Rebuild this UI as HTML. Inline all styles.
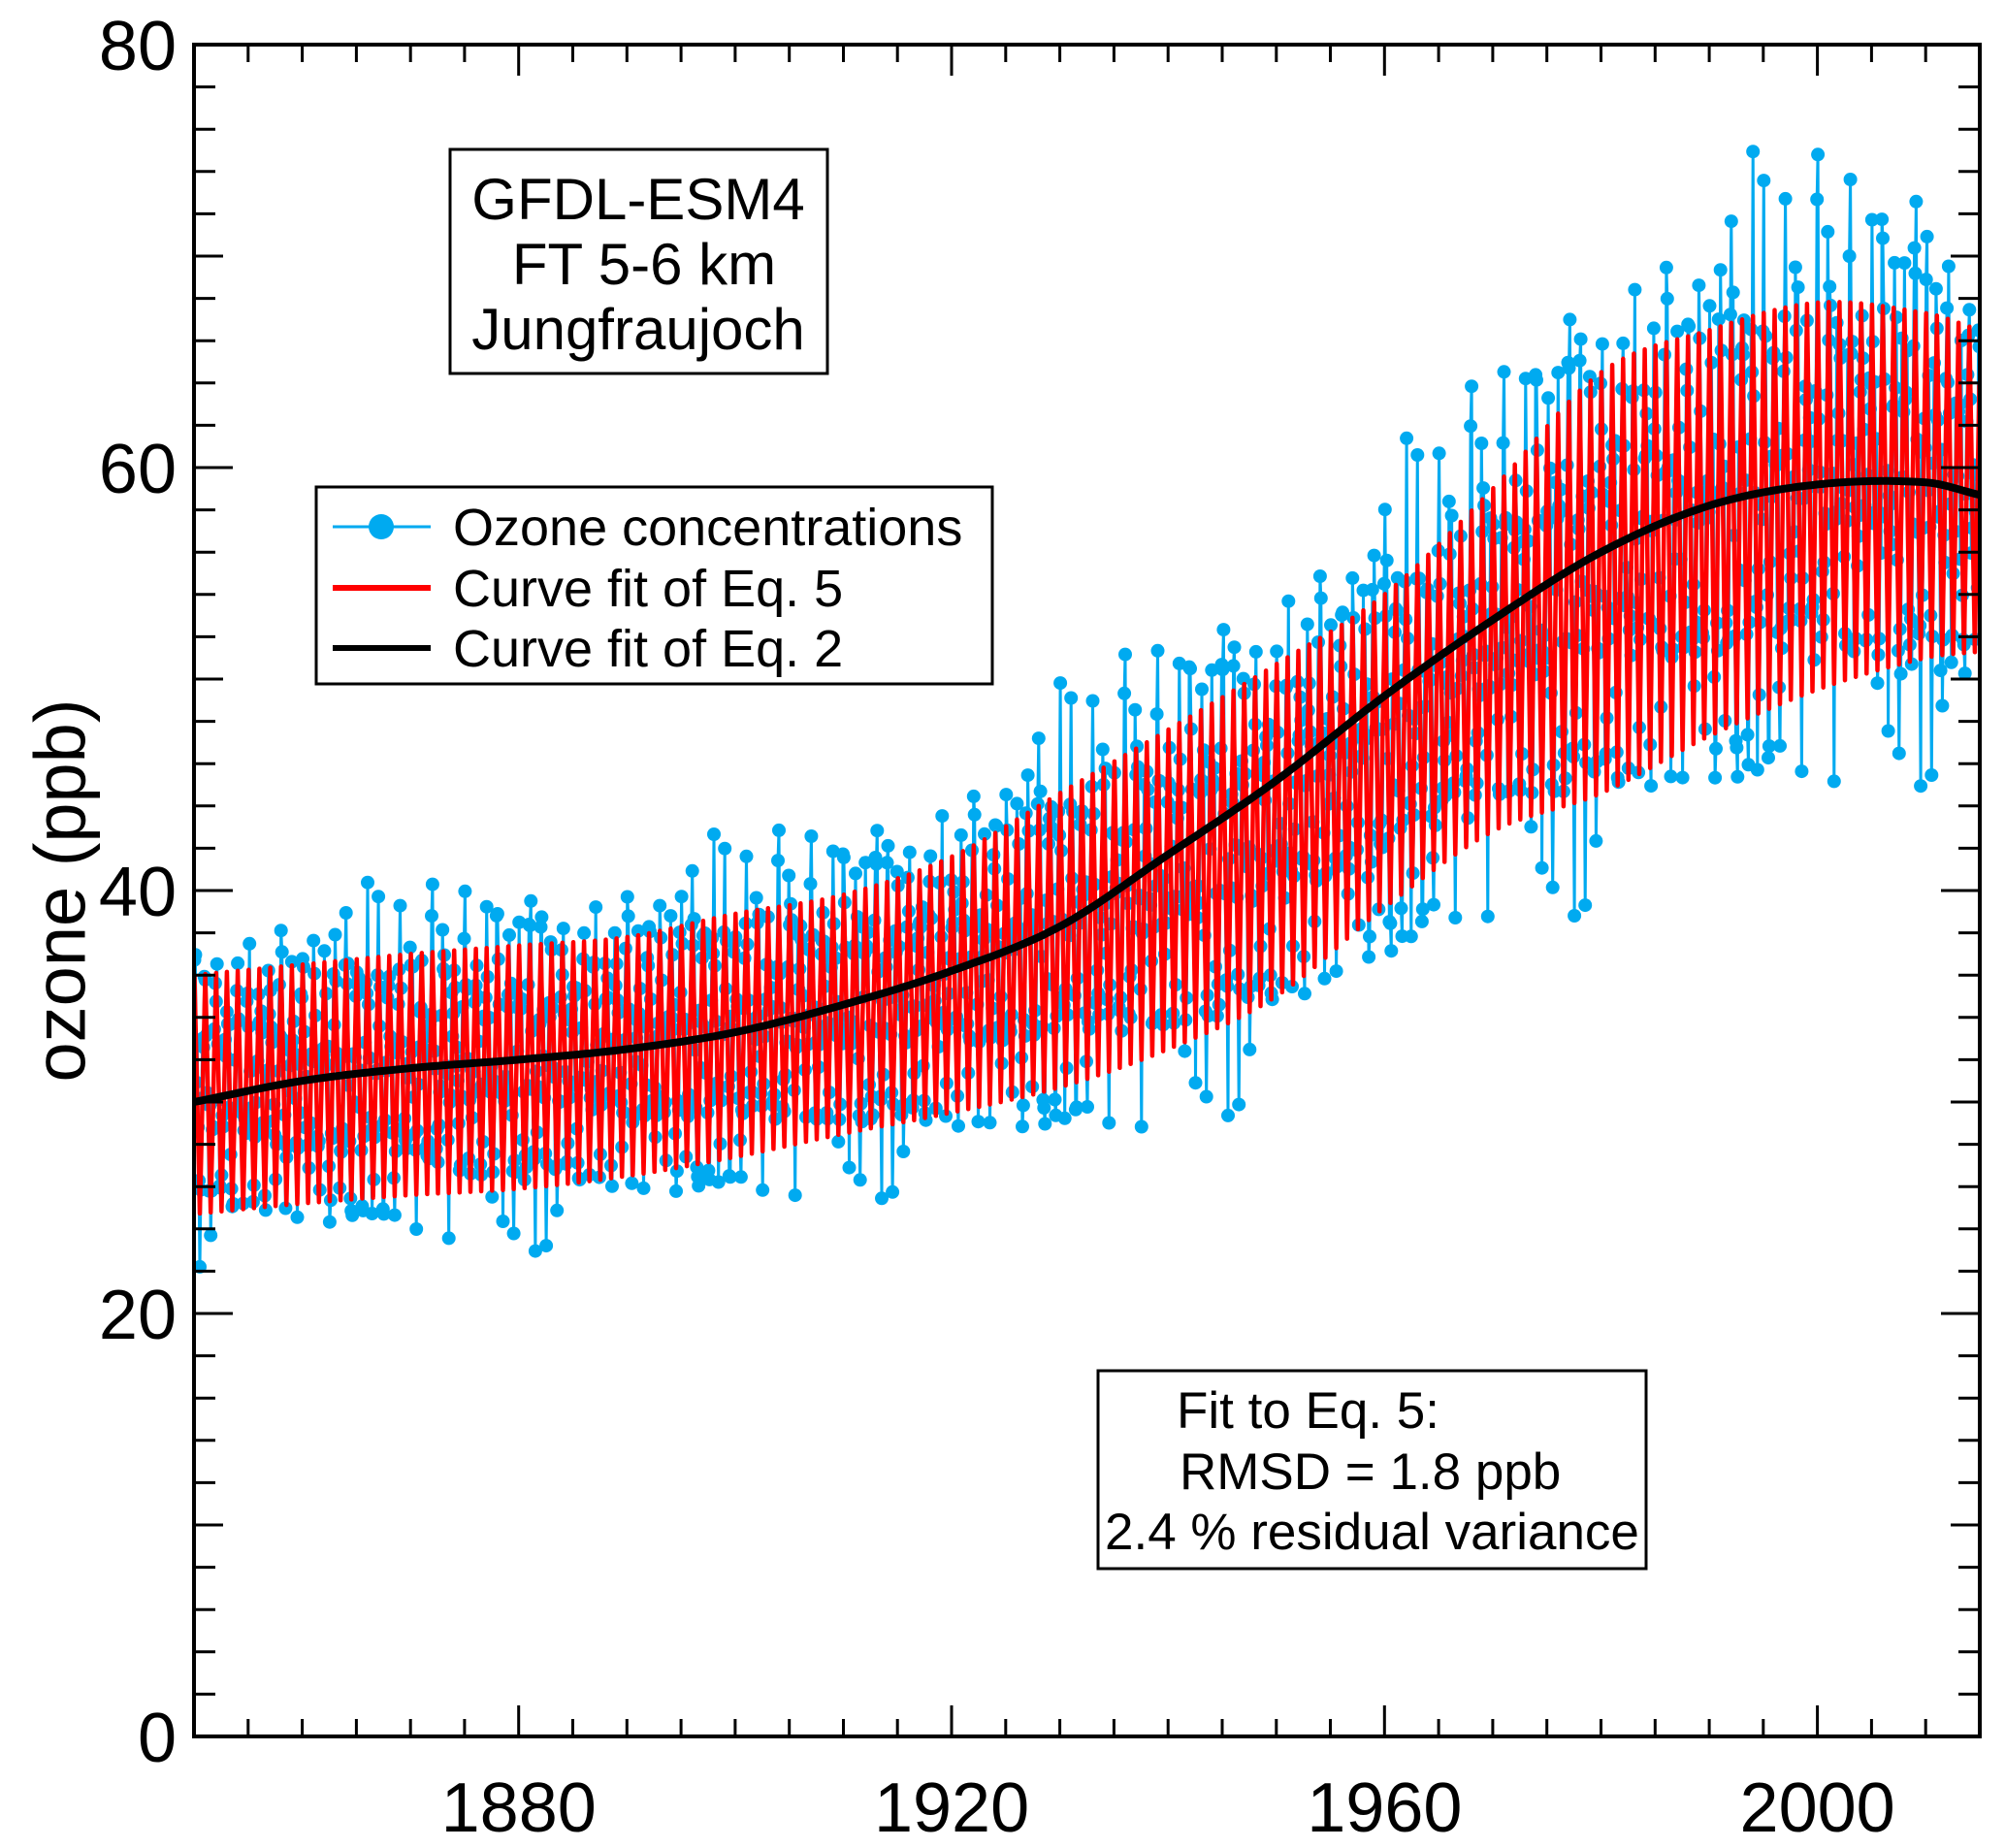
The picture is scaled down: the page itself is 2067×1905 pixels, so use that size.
<!DOCTYPE html>
<html><head><meta charset="utf-8"><style>
html,body{margin:0;padding:0;background:#fff;}
svg{display:block;font-family:"Liberation Sans",Arial,sans-serif;}
</style></head><body>
<svg id="chart" width="2067" height="1905" viewBox="0 0 2067 1905" xmlns="http://www.w3.org/2000/svg">
<defs><clipPath id="plotclip"><rect x="200" y="46" width="1841" height="1744"/></clipPath></defs>
<g id="data-layer" clip-path="url(#plotclip)"></g>
<g id="axes"></g>
<text x="0" y="0" transform="translate(68,918) rotate(-90)" text-anchor="middle" font-size="74" dominant-baseline="middle">ozone (ppb)</text>
<g>
<rect x="464" y="154" width="389" height="231" fill="#fff" stroke="#000" stroke-width="3"/>
<text x="658" y="226" text-anchor="middle" font-size="60">GFDL-ESM4</text>
<text x="664" y="293" text-anchor="middle" font-size="60">FT 5-6 km</text>
<text x="658" y="360" text-anchor="middle" font-size="60">Jungfraujoch</text>
</g>
<g>
<rect x="326" y="502" width="697" height="203" fill="#fff" stroke="#000" stroke-width="3"/>
<g>
<line x1="343" y1="543" x2="444" y2="543" stroke="#00aaf0" stroke-width="3"/>
<circle cx="393" cy="543" r="13" fill="#00aaf0"/>
<text x="467" y="562" font-size="54">Ozone concentrations</text></g>
<g>
<line x1="343" y1="606" x2="444" y2="606" stroke="#f00" stroke-width="6"/>
<text x="467" y="625" font-size="54">Curve fit of Eq. 5</text></g>
<g>
<line x1="343" y1="668" x2="444" y2="668" stroke="#000" stroke-width="6"/>
<text x="467" y="687" font-size="54">Curve fit of Eq. 2</text></g>
</g>
<g>
<rect x="1132" y="1413" width="565" height="204" fill="#fff" stroke="#000" stroke-width="3"/>
<text x="1213" y="1472" font-size="53">Fit to Eq. 5:</text>
<text x="1216" y="1535" font-size="53">RMSD = 1.8 ppb</text>
<text x="1139" y="1597" font-size="53">2.4 % residual variance</text>
</g>
</svg>
<script>
const years = [1850,1860,1870,1880,1890,1900,1910,1920,1930,1940,1950,1960,1970,1980,1990,2000,2010,2015];
const trendValues = [30.0,31.0,31.6,32.0,32.5,33.3,34.6,36.2,38.3,41.7,45.2,49.2,52.8,56.0,58.2,59.2,59.3,58.7];
const fitTop = [36.0,36.5,37.0,37.4,37.8,38.9,39.8,41.6,44.6,47.6,50.7,54.0,59.0,64.5,66.5,67.8,67.3,66.5];
const fitBottom = [24.7,25.2,25.6,25.9,26.5,27.4,28.5,29.5,30.7,32.5,35.0,39.2,42.8,44.6,47.3,49.5,51.0,51.3];
const seasonShape = [1,0.83,0.67,0.5,0.33,0.17,0,0.17,0.33,0.5,0.67,0.83];
const residuals = [0.8,-1.2,2.5,-0.4,1.6,-2.1,0.3,3.2,-1.0,0.9,-2.8,1.4,-0.6,2.0,-1.5,0.2,4.0,-0.9,1.1,-3.0,0.6,2.6,-1.8,-0.3,1.9,-0.7,3.5,-2.3,0.4,1.2,-1.1,2.9];
const residualScale = [0.9,0.9,0.9,1.0,1.0,1.0,1.1,1.2,1.3,1.4,1.5,1.6,1.7,1.8,1.9,2.0,2.0,2.0];
const xTickLabels = [1880,1920,1960,2000];
const yTickLabels = [0,20,40,60,80];

const X0=200,X1=2041,Y0=46,Y1=1790, xmin=1850, xmax=2015, ymin=0, ymax=80;
const xs = v => X0+(v-xmin)/(xmax-xmin)*(X1-X0);
const ys = v => Y1-(v-ymin)/(ymax-ymin)*(Y1-Y0);
function interp(arr,t){
  const n=years.length;
  let i=0;
  while(i<n-2 && t>years[i+1]) i++;
  const x0=years[i],x1=years[i+1],h=x1-x0,f=Math.max(0,Math.min(1,(t-x0)/h));
  const slope=j=>{
    if(j<=0) return (arr[1]-arr[0])/(years[1]-years[0]);
    if(j>=n-1) return (arr[n-1]-arr[n-2])/(years[n-1]-years[n-2]);
    return (arr[j+1]-arr[j-1])/(years[j+1]-years[j-1]);
  };
  const m0=slope(i)*h,m1=slope(i+1)*h,f2=f*f,f3=f2*f;
  return (2*f3-3*f2+1)*arr[i]+(f3-2*f2+f)*m0+(-2*f3+3*f2)*arr[i+1]+(f3-f2)*m1;
}
const NS="http://www.w3.org/2000/svg";
const dl=document.getElementById('data-layer');
const ax=document.getElementById('axes');

let fitPts=[],obsPts=[];
const nMonths=(xmax-xmin)*12;
for(let k=0;k<nMonths;k++){
  const t=xmin+(k+0.5)/12;
  const top=interp(fitTop,t), bot=interp(fitBottom,t);
  const f=bot+(top-bot)*seasonShape[k%12];
  fitPts.push([xs(t),ys(f)]);
  const r=residuals[(k*7+Math.floor(k/12)*3)%residuals.length]*interp(residualScale,t);
  obsPts.push([xs(t),ys(f+r)]);
}
const pathOf=p=>'M'+p.map(q=>q[0].toFixed(1)+','+q[1].toFixed(1)).join('L');

const obsLine=document.createElementNS(NS,'path');


obsLine.setAttribute('d',pathOf(obsPts));
obsLine.setAttribute('fill','none');obsLine.setAttribute('stroke','#00aaf0');obsLine.setAttribute('stroke-width','3');
dl.appendChild(obsLine);
const dots=document.createElementNS(NS,'g');


dots.setAttribute('fill','#00aaf0');
for(const p of obsPts){
  const c=document.createElementNS(NS,'circle');
  
  
  c.setAttribute('cx',p[0].toFixed(1));c.setAttribute('cy',p[1].toFixed(1));c.setAttribute('r','7');
  dots.appendChild(c);
}
dl.appendChild(dots);
const fitLine=document.createElementNS(NS,'path');


fitLine.setAttribute('d',pathOf(fitPts));
fitLine.setAttribute('fill','none');fitLine.setAttribute('stroke','#f00');fitLine.setAttribute('stroke-width','4.5');fitLine.setAttribute('stroke-linejoin','round');
dl.appendChild(fitLine);
let trendPts=[];
for(let t=xmin;t<=xmax;t+=0.5) trendPts.push([xs(t),ys(interp(trendValues,t))]);
const trend=document.createElementNS(NS,'path');


trend.setAttribute('d',pathOf(trendPts));
trend.setAttribute('fill','none');trend.setAttribute('stroke','#000');trend.setAttribute('stroke-width','8');
dl.appendChild(trend);

const frame=document.createElementNS(NS,'rect');


frame.setAttribute('x',X0);frame.setAttribute('y',Y0);frame.setAttribute('width',X1-X0);frame.setAttribute('height',Y1-Y0);
frame.setAttribute('fill','none');frame.setAttribute('stroke','#000');frame.setAttribute('stroke-width','4');
ax.appendChild(frame);
let tickD='';
for(let yr=1855;yr<xmax;yr+=5){
  const L=(yr%40===0)?32:18, x=xs(yr).toFixed(1);
  tickD+=`M${x},${Y1}v${-L}M${x},${Y0}v${L}`;
}
for(let v=2;v<ymax;v+=2){
  const L=(v%20===0)?40:(v%10===0?30:22), y=ys(v).toFixed(1);
  tickD+=`M${X0},${y}h${L}M${X1},${y}h${-L}`;
}
const ticks=document.createElementNS(NS,'path');


ticks.setAttribute('d',tickD);ticks.setAttribute('stroke','#000');ticks.setAttribute('stroke-width','3');
ax.appendChild(ticks);
for(const v of xTickLabels){
  const t=document.createElementNS(NS,'text');
  
  
  t.setAttribute('x',xs(v));t.setAttribute('y',1888);t.setAttribute('text-anchor','middle');t.setAttribute('font-size','72');
  t.textContent=v;ax.appendChild(t);
}
for(const v of yTickLabels){
  const t=document.createElementNS(NS,'text');
  
  
  t.setAttribute('x',182);t.setAttribute('y',ys(v)+26);t.setAttribute('text-anchor','end');t.setAttribute('font-size','72');
  t.textContent=v;ax.appendChild(t);
}
</script>
</body></html>
